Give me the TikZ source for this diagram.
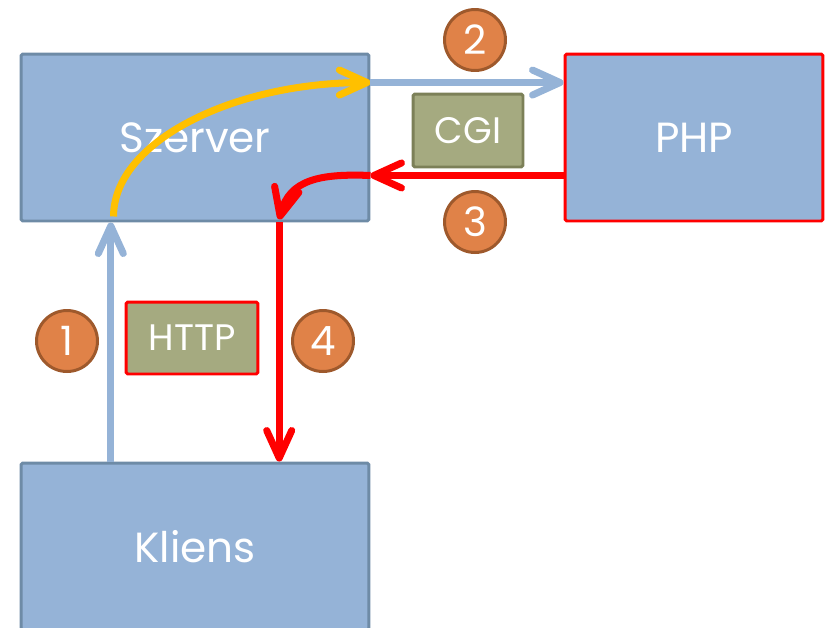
\documentclass[tikz,border=0pt]{standalone}
\usepackage{fontspec}
\setmainfont{Poppins}
\usetikzlibrary{arrows.meta,positioning,calc}
\definecolor{boxblue}{RGB}{149,179,215}
\definecolor{boxedge}{RGB}{110,139,166}
\definecolor{tagolive}{RGB}{165,170,128}
\definecolor{tagedge}{RGB}{124,128,88}
\definecolor{numorange}{RGB}{224,130,72}
\definecolor{numedge}{RGB}{158,89,44}
\definecolor{flowyellow}{RGB}{255,192,0}
\tikzset{
  box/.style={draw=boxedge, fill=boxblue, line width=1.7pt, rounded corners=1pt, minimum width=6.96cm, minimum height=3.34cm, inner sep=0pt, text=white, font=\fontsize{24}{28}\selectfont},
  tag/.style={draw=tagedge, fill=tagolive, line width=1.7pt, rounded corners=1pt, inner sep=0pt, text=white, font=\fontsize{21}{25}\selectfont},
  num/.style={circle, draw=numedge, fill=numorange, line width=1.7pt, minimum size=1.22cm, inner sep=0pt, text=white, font=\fontsize{23}{27}\selectfont},
  flow/.style={-{Straight Barb[length=5.5mm,width=5mm,round]}, line width=4pt}
}

\begin{document}
\begin{tikzpicture}[x=0.02cm, y=-0.02cm]
\useasboundingbox (0,0) rectangle (825,627);
\clip (0,0) rectangle (825,627);
% hosts
\node[box] (szerver) at (195,137.5) {Szerver};
\node[box, draw=red, minimum width=5.16cm] (php) at (694,137.5) {PHP};
\node[box] (kliens) at (195,546.5) {Kliens};
% protocol tags
\node[tag, minimum width=2.2cm, minimum height=1.46cm] (cgi) at (468,130.5) {CGI};
\node[tag, draw=red, minimum width=2.64cm, minimum height=1.44cm] (http) at (192,338) {HTTP};
% step numbers
\node[num] (n1) at (67,341) {1};
\node[num] (n2) at (475,40) {2};
\node[num] (n3) at (475,222) {3};
\node[num] (n4) at (323,341) {4};
% connector ends
\coordinate (kUp) at ($(kliens.north west)!0.26!(kliens.north east)$);
\coordinate (sUp) at ($(szerver.south west)!0.26!(szerver.south east)$);
\coordinate (yStart) at ($(szerver.south west)+(94,-6)$);
\coordinate (sOut) at ($(szerver.north east)+(0,30)$);
\coordinate (pIn) at (php.west |- sOut);
\coordinate (pOut) at ($(php.south west)+(0,-47)$);
\coordinate (sIn) at (szerver.east |- pOut);
\coordinate (sDown) at ($(szerver.south west)!0.74!(szerver.south east)$);
\coordinate (kDown) at ($(kliens.north west)!0.74!(kliens.north east)$);
% request and response
\draw[flow, boxblue] (kUp) -- (sUp);
\draw[flow, flowyellow] (yStart) .. controls +(0,-74) and +(-139,0) .. (sOut);
\draw[flow, boxblue] (sOut) -- (pIn);
\draw[flow, red] (pOut) -- (sIn);
\draw[flow, red] (sIn) .. controls +(-50,-2) and +(10,-40) .. ($(sDown)+(0,-3)$);
\draw[flow, red] (sDown) -- (kDown);
\end{tikzpicture}
\end{document}
